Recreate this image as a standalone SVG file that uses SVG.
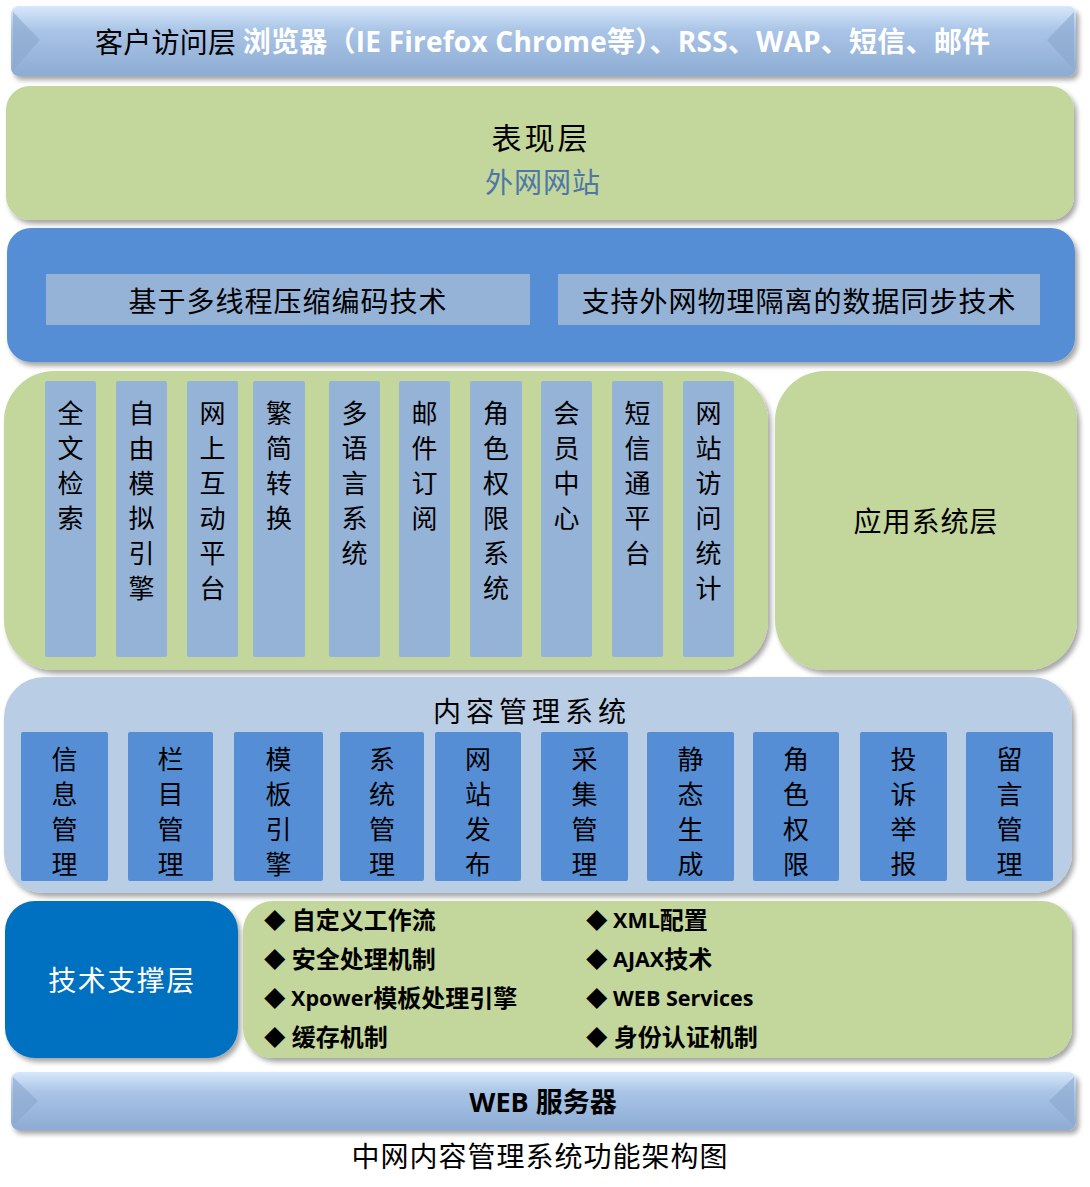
<svg xmlns="http://www.w3.org/2000/svg" width="1090" height="1187" viewBox="0 0 1090 1187">
<defs>
<linearGradient id="barGrad" x1="0" y1="0" x2="0" y2="1">
<stop offset="0" stop-color="#d7e8fb"/>
<stop offset="0.35" stop-color="#a9c4e6"/>
<stop offset="1" stop-color="#8dabd3"/>
</linearGradient>
<filter id="sh" x="-5%" y="-10%" width="110%" height="125%">
<feDropShadow dx="3" dy="4" stdDeviation="2.5" flood-color="#000" flood-opacity="0.35"/>
</filter>
<style>
.cjk{font-family:"Noto Sans CJK SC","Noto Sans",sans-serif;}
.mix{font-family:"Open Sans","Noto Sans CJK SC",sans-serif;}
.col{fill:#95b3d7;}
.cbox{fill:#558ed5;}
.vt{font-family:"Noto Sans CJK SC",sans-serif;font-size:26px;fill:#000;text-anchor:middle;dominant-baseline:central;}
.vt2{font-family:"Noto Sans CJK SC",sans-serif;font-size:26px;fill:#000;text-anchor:middle;dominant-baseline:central;}
.item{font-family:"Open Sans","Noto Sans CJK SC",sans-serif;font-size:24px;font-weight:bold;fill:#000;dominant-baseline:central;}
.lat{font-size:21.5px;}
.green{fill:#c3d69b;}
</style>
</defs>

<g id="client-layer">
<rect x="11" y="6" width="1065" height="70" rx="8" fill="url(#barGrad)" filter="url(#sh)"/>
<polygon points="13,12 40,40 13,70" fill="#8aa6cc" opacity="0.6"/>
<polygon points="1074,12 1047,40 1074,70" fill="#8aa6cc" opacity="0.6"/>
<text x="95" y="41" class="cjk" font-size="28" dominant-baseline="central" textLength="895" lengthAdjust="spacing"><tspan fill="#000">客户访问层 </tspan><tspan fill="#fff" class="mix" font-weight="bold">浏览器（IE Firefox Chrome等）、RSS、WAP、短信、邮件</tspan></text>
</g>

<g id="presentation-layer">
<rect x="6" y="86" width="1068" height="134" rx="24" class="green" filter="url(#sh)"/>
<text x="541" y="136" class="cjk" font-size="30" text-anchor="middle" dominant-baseline="central" fill="#000" letter-spacing="3">表现层</text>
<text x="543" y="181" class="cjk" font-size="28" text-anchor="middle" dominant-baseline="central" fill="#4f76a8" letter-spacing="1">外网网站</text>
</g>

<g id="transport-layer">
<rect x="7" y="228" width="1068" height="134" rx="24" fill="#558ed5" filter="url(#sh)"/>
<g id="tech-multithread">
<rect x="46" y="274" width="484" height="51" fill="#95b3d7"/>
<text x="288" y="300" class="cjk" font-size="28" text-anchor="middle" dominant-baseline="central" fill="#000" letter-spacing="1">基于多线程压缩编码技术</text>
</g>
<g id="tech-sync">
<rect x="558" y="274" width="482" height="51" fill="#95b3d7"/>
<text x="799" y="300" class="cjk" font-size="28" text-anchor="middle" dominant-baseline="central" fill="#000" letter-spacing="1">支持外网物理隔离的数据同步技术</text>
</g>
</g>

<g id="app-modules">
<rect x="4" y="371" width="764" height="299" rx="50" class="green" filter="url(#sh)"/>
<g id="m1"><rect x="45" y="381" width="51" height="276" rx="2" class="col"/>
<text class="vt"><tspan x="70.5" y="411">全</tspan><tspan x="70.5" y="446">文</tspan><tspan x="70.5" y="481">检</tspan><tspan x="70.5" y="516">索</tspan></text></g>
<g id="m2"><rect x="116" y="381" width="51" height="276" rx="2" class="col"/>
<text class="vt"><tspan x="141.5" y="411">自</tspan><tspan x="141.5" y="446">由</tspan><tspan x="141.5" y="481">模</tspan><tspan x="141.5" y="516">拟</tspan><tspan x="141.5" y="551">引</tspan><tspan x="141.5" y="586">擎</tspan></text></g>
<g id="m3"><rect x="187" y="381" width="51" height="276" rx="2" class="col"/>
<text class="vt"><tspan x="212.5" y="411">网</tspan><tspan x="212.5" y="446">上</tspan><tspan x="212.5" y="481">互</tspan><tspan x="212.5" y="516">动</tspan><tspan x="212.5" y="551">平</tspan><tspan x="212.5" y="586">台</tspan></text></g>
<g id="m4"><rect x="253" y="381" width="52" height="276" rx="2" class="col"/>
<text class="vt"><tspan x="279" y="411">繁</tspan><tspan x="279" y="446">简</tspan><tspan x="279" y="481">转</tspan><tspan x="279" y="516">换</tspan></text></g>
<g id="m5"><rect x="329" y="381" width="51" height="276" rx="2" class="col"/>
<text class="vt"><tspan x="354.5" y="411">多</tspan><tspan x="354.5" y="446">语</tspan><tspan x="354.5" y="481">言</tspan><tspan x="354.5" y="516">系</tspan><tspan x="354.5" y="551">统</tspan></text></g>
<g id="m6"><rect x="399" y="381" width="51" height="276" rx="2" class="col"/>
<text class="vt"><tspan x="424.5" y="411">邮</tspan><tspan x="424.5" y="446">件</tspan><tspan x="424.5" y="481">订</tspan><tspan x="424.5" y="516">阅</tspan></text></g>
<g id="m7"><rect x="470" y="381" width="52" height="276" rx="2" class="col"/>
<text class="vt"><tspan x="496" y="411">角</tspan><tspan x="496" y="446">色</tspan><tspan x="496" y="481">权</tspan><tspan x="496" y="516">限</tspan><tspan x="496" y="551">系</tspan><tspan x="496" y="586">统</tspan></text></g>
<g id="m8"><rect x="541" y="381" width="51" height="276" rx="2" class="col"/>
<text class="vt"><tspan x="566.5" y="411">会</tspan><tspan x="566.5" y="446">员</tspan><tspan x="566.5" y="481">中</tspan><tspan x="566.5" y="516">心</tspan></text></g>
<g id="m9"><rect x="612" y="381" width="51" height="276" rx="2" class="col"/>
<text class="vt"><tspan x="637.5" y="411">短</tspan><tspan x="637.5" y="446">信</tspan><tspan x="637.5" y="481">通</tspan><tspan x="637.5" y="516">平</tspan><tspan x="637.5" y="551">台</tspan></text></g>
<g id="m10"><rect x="683" y="381" width="51" height="276" rx="2" class="col"/>
<text class="vt"><tspan x="708.5" y="411">网</tspan><tspan x="708.5" y="446">站</tspan><tspan x="708.5" y="481">访</tspan><tspan x="708.5" y="516">问</tspan><tspan x="708.5" y="551">统</tspan><tspan x="708.5" y="586">计</tspan></text></g>
</g>

<g id="app-layer">
<rect x="775" y="371" width="302" height="299" rx="50" class="green" filter="url(#sh)"/>
<text x="926" y="520" class="cjk" font-size="28" text-anchor="middle" dominant-baseline="central" fill="#000" letter-spacing="1">应用系统层</text>
</g>

<g id="cms">
<rect x="4" y="677" width="1068" height="216" rx="40" fill="#b9cde5" filter="url(#sh)"/>
<text x="532" y="710" class="cjk" font-size="28" text-anchor="middle" dominant-baseline="central" fill="#000" letter-spacing="5">内容管理系统</text>
<g id="c1"><rect x="21" y="732" width="87" height="149" rx="2" class="cbox"/>
<text class="vt2"><tspan x="64.5" y="757">信</tspan><tspan x="64.5" y="792">息</tspan><tspan x="64.5" y="827">管</tspan><tspan x="64.5" y="862">理</tspan></text></g>
<g id="c2"><rect x="128" y="732" width="85" height="149" rx="2" class="cbox"/>
<text class="vt2"><tspan x="170.5" y="757">栏</tspan><tspan x="170.5" y="792">目</tspan><tspan x="170.5" y="827">管</tspan><tspan x="170.5" y="862">理</tspan></text></g>
<g id="c3"><rect x="234" y="732" width="89" height="149" rx="2" class="cbox"/>
<text class="vt2"><tspan x="278.5" y="757">模</tspan><tspan x="278.5" y="792">板</tspan><tspan x="278.5" y="827">引</tspan><tspan x="278.5" y="862">擎</tspan></text></g>
<g id="c4"><rect x="340" y="732" width="84" height="149" rx="2" class="cbox"/>
<text class="vt2"><tspan x="382" y="757">系</tspan><tspan x="382" y="792">统</tspan><tspan x="382" y="827">管</tspan><tspan x="382" y="862">理</tspan></text></g>
<g id="c5"><rect x="435" y="732" width="86" height="149" rx="2" class="cbox"/>
<text class="vt2"><tspan x="478" y="757">网</tspan><tspan x="478" y="792">站</tspan><tspan x="478" y="827">发</tspan><tspan x="478" y="862">布</tspan></text></g>
<g id="c6"><rect x="541" y="732" width="87" height="149" rx="2" class="cbox"/>
<text class="vt2"><tspan x="584.5" y="757">采</tspan><tspan x="584.5" y="792">集</tspan><tspan x="584.5" y="827">管</tspan><tspan x="584.5" y="862">理</tspan></text></g>
<g id="c7"><rect x="647" y="732" width="87" height="149" rx="2" class="cbox"/>
<text class="vt2"><tspan x="690.5" y="757">静</tspan><tspan x="690.5" y="792">态</tspan><tspan x="690.5" y="827">生</tspan><tspan x="690.5" y="862">成</tspan></text></g>
<g id="c8"><rect x="753" y="732" width="86" height="149" rx="2" class="cbox"/>
<text class="vt2"><tspan x="796" y="757">角</tspan><tspan x="796" y="792">色</tspan><tspan x="796" y="827">权</tspan><tspan x="796" y="862">限</tspan></text></g>
<g id="c9"><rect x="860" y="732" width="87" height="149" rx="2" class="cbox"/>
<text class="vt2"><tspan x="903.5" y="757">投</tspan><tspan x="903.5" y="792">诉</tspan><tspan x="903.5" y="827">举</tspan><tspan x="903.5" y="862">报</tspan></text></g>
<g id="c10"><rect x="966" y="732" width="87" height="149" rx="2" class="cbox"/>
<text class="vt2"><tspan x="1009.5" y="757">留</tspan><tspan x="1009.5" y="792">言</tspan><tspan x="1009.5" y="827">管</tspan><tspan x="1009.5" y="862">理</tspan></text></g>
</g>

<g id="tech-layer">
<rect x="5" y="901" width="233" height="157" rx="30" fill="#0070c0" filter="url(#sh)"/>
<text x="122" y="979" class="cjk" font-size="28" text-anchor="middle" dominant-baseline="central" fill="#fff" letter-spacing="1.5">技术支撑层</text>
</g>

<g id="tech-list">
<rect x="243" y="901" width="829" height="157" rx="30" class="green" filter="url(#sh)"/>
<text class="item" x="264" y="919"><tspan class="lat">◆</tspan> 自定义工作流</text>
<text class="item" x="264" y="958"><tspan class="lat">◆</tspan> 安全处理机制</text>
<text class="item" x="264" y="997"><tspan class="lat">◆ Xpower</tspan>模板处理引擎</text>
<text class="item" x="264" y="1036"><tspan class="lat">◆</tspan> 缓存机制</text>
<text class="item" x="586" y="919"><tspan class="lat">◆ XML</tspan>配置</text>
<text class="item" x="586" y="958"><tspan class="lat">◆ AJAX</tspan>技术</text>
<text class="item" x="586" y="997"><tspan class="lat">◆ WEB Services</tspan></text>
<text class="item" x="586" y="1036"><tspan class="lat">◆</tspan> 身份认证机制</text>
</g>

<g id="web-server">
<rect x="11" y="1072" width="1065" height="58" rx="8" fill="url(#barGrad)" filter="url(#sh)"/>
<polygon points="13,1077 38,1101 13,1126" fill="#8aa6cc" opacity="0.6"/>
<polygon points="1074,1077 1049,1101 1074,1126" fill="#8aa6cc" opacity="0.6"/>
<text x="543" y="1101" class="mix" font-size="27" font-weight="bold" text-anchor="middle" dominant-baseline="central" fill="#000">WEB 服务器</text>
</g>

<g id="connectors"></g>

<text x="540" y="1155" class="cjk" font-size="28" text-anchor="middle" dominant-baseline="central" fill="#000" letter-spacing="1">中网内容管理系统功能架构图</text>
</svg>
